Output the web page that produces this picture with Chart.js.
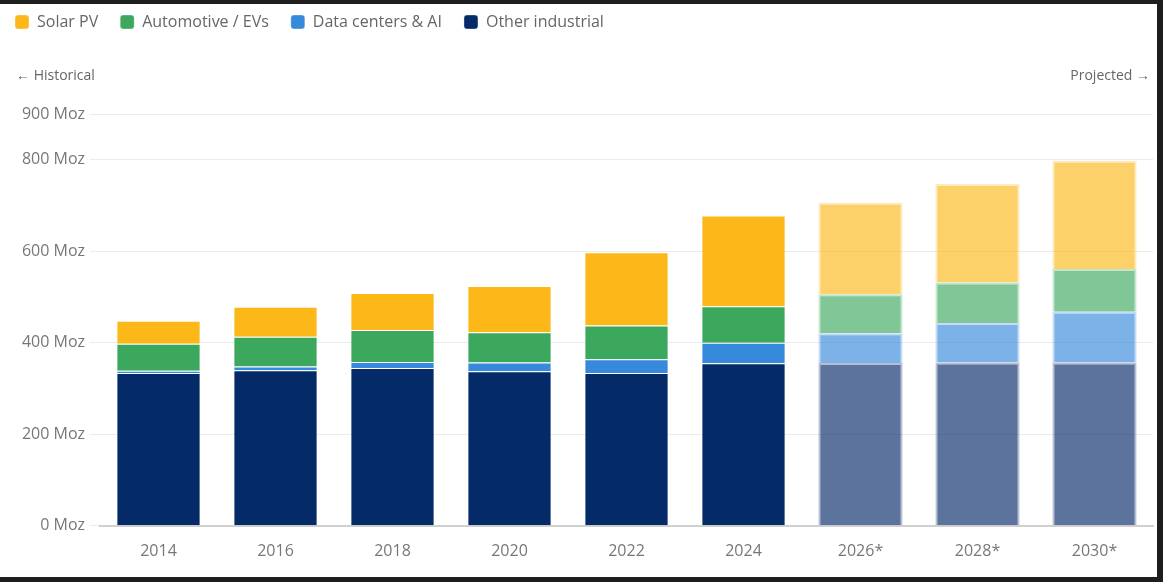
<!DOCTYPE html>
<html>
<head>
<meta charset="utf-8">
<script src="https://cdn.jsdelivr.net/npm/chart.js@4"></script>
<style>
  body { margin: 0; background: #1e1e1e; }
  #wrap { position: absolute; left: 0; top: 4px; width: 1157px; height: 573px; background: #fff; }
</style>
</head>
<body>
<div id="wrap"><canvas id="chart"></canvas></div>
<script>
// Silver demand by segment (Moz)
const years = ["2014", "2016", "2018", "2020", "2022", "2024", "2026*", "2028*", "2030*"];
const otherIndustrial = [334, 340, 345, 338, 334, 355, 356, 357, 357];
const dataCenters = [5, 8, 13, 19, 30, 45, 65, 86, 111];
const automotive = [59, 65, 70, 66, 74, 80, 85, 89, 93];
const solarPV = [50, 66, 81, 101, 160, 198, 200, 215, 237];
const yTicks = [0, 200, 400, 600, 800, 900];
const projectedFrom = 6; // index of first projected year

function rgba(rgb, a) {
  return "rgba(" + rgb.join(",") + "," + a + ")";
}

function fills(rgb) {
  return years.map((y, i) => (i >= projectedFrom ? rgba(rgb, 0.65) : rgba(rgb, 1)));
}

function borders(rgb) {
  return years.map((y, i) => (i >= projectedFrom ? rgba(rgb, 0.3) : "rgba(255,255,255,0.35)"));
}

function borderWidths() {
  return years.map((y, i) => (i >= projectedFrom ? 2 : 1));
}

function makeSet(label, data, rgb) {
  return {
    label: label,
    data: data,
    backgroundColor: fills(rgb),
    borderColor: borders(rgb),
    borderWidth: borderWidths(),
    barPercentage: 0.72,
    categoryPercentage: 1.0,
  };
}

// extra room under the legend for the historical / projected markers
const legendSpacer = {
  id: "legendSpacer",
  beforeInit(chart) {
    const origFit = chart.legend.fit;
    chart.legend.fit = function () {
      origFit.bind(chart.legend)();
      this.height = 122;
    };
  },
};

const periodLabels = {
  id: "periodLabels",
  afterDraw(chart) {
    const ctx = chart.ctx;
    ctx.save();
    ctx.font = "14px 'Open Sans', sans-serif";
    ctx.fillStyle = "#666";
    ctx.textBaseline = "middle";
    ctx.textAlign = "left";
    ctx.fillText("← Historical", 16, 72);
    ctx.textAlign = "right";
    ctx.fillText("Projected →", 1150, 72);
    ctx.restore();
  },
};

Chart.defaults.font.family = "'Open Sans', sans-serif";

new Chart(document.getElementById("chart"), {
  type: "bar",
  data: {
    labels: years,
    datasets: [
      makeSet("Other industrial", otherIndustrial, [5, 42, 104]),
      makeSet("Data centers & AI", dataCenters, [55, 137, 219]),
      makeSet("Automotive / EVs", automotive, [60, 168, 93]),
      makeSet("Solar PV", solarPV, [252, 184, 25]),
    ],
  },
  options: {
    responsive: true,
    maintainAspectRatio: false,
    animation: false,
    layout: {
      padding: { left: -7, right: 4, top: -12, bottom: 8 },
    },
    plugins: {
      legend: {
        display: true,
        position: "top",
        align: "start",
        reverse: true,
        labels: {
          boxWidth: 14,
          boxHeight: 14,
          useBorderRadius: true,
          borderRadius: 3,
          padding: 22,
          color: "#666",
          font: { size: 16 },
        },
      },
      tooltip: { enabled: false },
    },
    scales: {
      x: {
        stacked: true,
        grid: { display: false },
        border: { color: "#d0d0d0", width: 2 },
        ticks: { color: "#777", font: { size: 16 }, padding: 8 },
      },
      y: {
        stacked: true,
        min: 0,
        max: 900,
        afterBuildTicks: function (scale) {
          scale.ticks = yTicks.map((v) => ({ value: v }));
        },
        afterFit: function (scale) {
          scale.width = 107;
        },
        border: { display: false },
        grid: { color: "#ebebeb", tickLength: 10 },
        ticks: {
          color: "#777",
          font: { size: 16 },
          padding: 5,
          callback: function (value) {
            return value + " Moz";
          },
        },
      },
    },
  },
  plugins: [legendSpacer, periodLabels],
});
</script>
</body>
</html>
